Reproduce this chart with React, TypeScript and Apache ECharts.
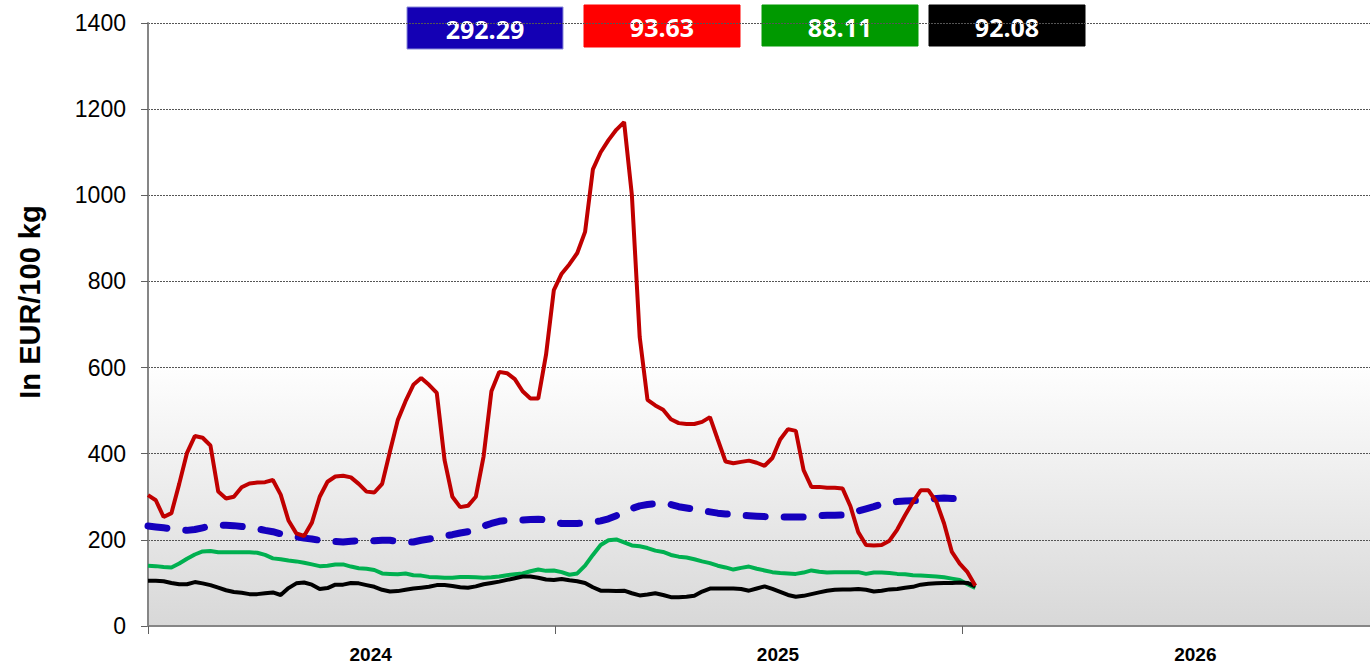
import React, { useEffect, useRef } from "react";
import * as echarts from "echarts";

// Year categories shown under the x axis
const yearLabels = ["2024", "2025", "2026"];

// Weekly observations, first week starting 2024-01-01
const redValues = [
  304, 292, 253, 262, 330, 402, 441, 437, 419, 312,
  296, 300, 322, 331, 333, 334, 339, 305, 245, 215,
  209, 240, 300, 335, 347, 349, 345, 330, 312, 310,
  330, 405, 478, 522, 560, 576, 560, 541, 385, 300,
  276, 279, 300, 394, 545, 590, 587, 573, 545, 528,
  528, 630, 780, 818, 840, 866, 915, 1060, 1100, 1128,
  1152, 1170, 1000, 671, 525, 512, 502, 480, 471, 469,
  469, 474, 485, 433, 382, 378, 381, 384, 379, 372,
  390, 433, 457, 453, 362, 323, 323, 321, 321, 319,
  278, 218, 188, 187, 188, 198, 224, 257, 288, 315,
  315, 289, 238, 172, 145, 125, 93.63,
];

const blueValues = [
  232, 230, 228, 226, 224, 222, 224, 228, 232, 233,
  234, 233, 231, 229, 226, 222, 219, 214, 210, 207,
  204, 202, 199, 197, 196, 195, 197, 198, 198, 198,
  199, 199, 196, 194, 195, 199, 202, 205, 209, 212,
  216, 219, 225, 232, 238, 243, 245, 246, 246, 247,
  248, 246, 242, 238, 238, 238, 239, 241, 244, 249,
  256, 265, 273, 279, 282, 284, 285, 282, 277, 274,
  271, 268, 265, 262, 260, 259, 257, 256, 255, 254,
  253, 253, 253, 253, 253, 255, 256, 257, 257, 258,
  262, 267, 272, 277, 283, 286, 289, 290, 291, 292,
  294, 296, 297, 296, 295, null, null,
];

const greenValues = [
  140, 139, 137, 136, 145, 156, 166, 173, 174, 171,
  171, 171, 171, 171, 170, 165, 157, 155, 152, 150,
  147, 143, 139, 140, 143, 143, 138, 134, 133, 130,
  122, 121, 120, 122, 118, 117, 114, 113, 112, 112,
  114, 114, 113, 112, 113, 115, 118, 120, 122, 127,
  131, 128, 129, 125, 119, 122, 140, 165, 188, 199,
  201, 194, 187, 185, 181, 175, 172, 165, 161, 159,
  155, 150, 146, 140, 136, 131, 135, 138, 133, 129,
  125, 123, 122, 121, 124, 129, 126, 124, 125, 125,
  125, 125, 121, 124, 124, 123, 121, 120, 118, 117,
  116, 115, 113, 110, 107, 97, 88.11,
];

const blackValues = [
  105, 105, 104, 100, 97, 97, 102, 99, 95, 89,
  83, 79, 77, 74, 74, 76, 78, 72, 88, 99,
  101, 96, 86, 88, 96, 96, 100, 99, 95, 91,
  84, 80, 81, 84, 87, 89, 91, 95, 95, 93,
  90, 89, 92, 97, 100, 103, 107, 111, 115, 115,
  112, 108, 107, 109, 106, 104, 100, 90, 82, 82,
  81, 82, 76, 71, 73, 76, 72, 67, 67, 68,
  70, 80, 87, 87, 87, 87, 86, 82, 87, 92,
  86, 79, 72, 68, 70, 74, 78, 82, 84, 85,
  85, 86, 84, 80, 82, 85, 86, 89, 91, 96,
  98, 99, 100, 100, 101, 100, 92.08,
];

// Latest values shown in the boxes at the top
const latestValues = [292.29, 93.63, 88.11, 92.08];
const boxColors = ["#1400b4", "#ff0000", "#009900", "#000000"];

const yTicks = { min: 0, max: 1400, interval: 200 };

const weekDates = redValues.map((_, i) => new Date(2024, 0, 1 + 7 * i).getTime());
const pairs = (vals: (number | null)[]) => weekDates.map((d, i) => [d, vals[i]]);

export default function App() {
  const ref = useRef<HTMLDivElement>(null);

  useEffect(() => {
    document.body.style.margin = "0";
    if (!ref.current) return;
    const chart = echarts.init(ref.current, null, { renderer: "svg" });

    const boxPos = [
      { x: 407, y: 7, w: 156, h: 42 },
      { x: 584, y: 5, w: 156, h: 42 },
      { x: 762, y: 5, w: 156, h: 41 },
      { x: 929, y: 5, w: 156, h: 41 },
    ];

    const boxes = latestValues.map((v, i) => ({
      type: "group",
      x: boxPos[i].x,
      y: boxPos[i].y,
      z: 100,
      children: [
        {
          type: "rect",
          shape: { x: 0, y: 0, width: boxPos[i].w, height: boxPos[i].h },
          style: {
            fill: boxColors[i],
            stroke: i === 0 ? "#8a8ad8" : boxColors[i],
            lineWidth: 1,
          },
        },
        {
          type: "text",
          x: boxPos[i].w / 2,
          y: boxPos[i].h / 2 + 1,
          style: {
            text: v.toFixed(2),
            fill: "#ffffff",
            fontSize: 25,
            fontWeight: "bold",
            fontFamily: "Open Sans",
            align: "center",
            verticalAlign: "middle",
          },
        },
      ],
    }));

    const labelStyle = {
      fontSize: 19,
      fontWeight: "bold",
      fontFamily: "Liberation Sans",
      color: "#000",
    };

    chart.setOption({
      animation: false,
      grid: {
        left: 148,
        top: 23,
        width: 1230,
        height: 603,
        show: true,
        borderWidth: 0,
        backgroundColor: {
          type: "linear",
          x: 0,
          y: 0,
          x2: 0,
          y2: 1,
          colorStops: [
            { offset: 0, color: "#ffffff" },
            { offset: 0.56, color: "#ffffff" },
            { offset: 1, color: "#d8d8d8" },
          ],
        },
      },
      xAxis: [
        {
          type: "category",
          data: yearLabels,
          boundaryGap: true,
          position: "bottom",
          axisLine: { show: true, lineStyle: { color: "#868686", width: 2 } },
          axisTick: { show: true, length: 8, lineStyle: { color: "#606060", width: 1 } },
          axisLabel: {
            margin: 19,
            ...labelStyle,
            formatter: (v: string, idx: number) => `{y${idx}|${v}}`,
            rich: {
              y0: { ...labelStyle, padding: [0, 0, 0, 38] },
              y1: { ...labelStyle, padding: [0, 0, 0, 38] },
              y2: { ...labelStyle, padding: [0, 0, 0, 58] },
            },
          },
          splitLine: { show: false },
          z: 10,
        },
        {
          type: "time",
          show: false,
          min: new Date(2024, 0, 1).getTime(),
          max: new Date(2027, 0, 1).getTime(),
          splitLine: { show: false },
        },
      ],
      yAxis: {
        type: "value",
        min: yTicks.min,
        max: yTicks.max,
        interval: yTicks.interval,
        axisLine: { show: true, lineStyle: { color: "#868686", width: 2 } },
        axisTick: { show: true, length: 7, lineStyle: { color: "#606060", width: 1 } },
        axisLabel: {
          margin: 22,
          fontSize: 23,
          fontFamily: "Liberation Sans",
          color: "#000",
          formatter: (v: number) => String(v),
        },
        splitLine: {
          show: true,
          lineStyle: { color: "#555555", width: 1, type: [2, 1] },
        },
      },
      graphic: [
        {
          type: "text",
          x: 30,
          y: 302,
          rotation: Math.PI / 2,
          style: {
            text: "In EUR/100 kg",
            fill: "#000",
            fontSize: 29,
            fontWeight: "bold",
            fontFamily: "Liberation Sans",
            align: "center",
            verticalAlign: "middle",
          },
        },
        ...boxes,
      ],
      series: [
        {
          type: "line",
          xAxisIndex: 1,
          data: pairs(blueValues),
          showSymbol: false,
          connectNulls: false,
          lineStyle: { color: "#1500bd", width: 7, type: [19, 19], cap: "round" },
          z: 2,
        },
        {
          type: "line",
          xAxisIndex: 1,
          data: pairs(greenValues),
          showSymbol: false,
          lineStyle: { color: "#00b050", width: 4 },
          z: 3,
        },
        {
          type: "line",
          xAxisIndex: 1,
          data: pairs(blackValues),
          showSymbol: false,
          lineStyle: { color: "#000000", width: 4 },
          z: 4,
        },
        {
          type: "line",
          xAxisIndex: 1,
          data: pairs(redValues),
          showSymbol: false,
          lineStyle: { color: "#c00000", width: 4 },
          z: 5,
        },
      ],
    });

    return () => chart.dispose();
  }, []);

  return (
    <div
      ref={ref}
      style={{ position: "absolute", left: 0, top: 0, width: 1370, height: 664 }}
    />
  );
}
